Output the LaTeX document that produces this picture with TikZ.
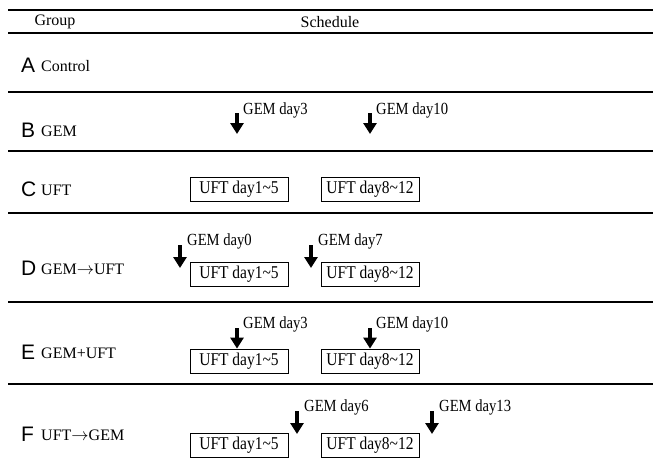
\documentclass[tikz,border=0pt]{standalone}
\usepackage{fontspec}
\setmainfont{Liberation Serif}
\newfontfamily\letfont{Liberation Sans}
\newfontfamily\condfont[FakeStretch=0.86]{Liberation Serif}
\usetikzlibrary{arrows.meta}
\begin{document}
\begin{tikzpicture}[x=1pt,y=-1pt,
  rule/.style={line width=1.1pt},
  hdr/.style={inner sep=0pt, font=\fontsize{16}{18}\selectfont},
  letter/.style={inner sep=0pt, anchor=west, font=\letfont\fontsize{21}{23}\selectfont},
  grp/.style={inner sep=0pt, anchor=west, font=\fontsize{16}{18}\selectfont},
  ufbox/.style={draw, line width=0.8pt, minimum width=98pt, minimum height=24pt, inner sep=0pt, font=\condfont\fontsize{18}{20}\selectfont},
  gemarrow/.style={line width=4pt, -{Triangle[width=13pt,length=11pt]}},
  gemlabel/.style={inner sep=0pt, anchor=west, font=\condfont\fontsize{17}{19}\selectfont}]
\useasboundingbox (0,0) rectangle (653,474);
\fill[white] (0,0) rectangle (653,474);

% rules
\coordinate (l0a) at (8,10);  \coordinate (l0b) at (653,10);
\coordinate (l1a) at (8,33);  \coordinate (l1b) at (653,33);
\coordinate (l2a) at (8,92);  \coordinate (l2b) at (653,92);
\coordinate (l3a) at (8,151); \coordinate (l3b) at (653,151);
\coordinate (l4a) at (8,213); \coordinate (l4b) at (653,213);
\coordinate (l5a) at (8,302); \coordinate (l5b) at (653,302);
\coordinate (l6a) at (8,384); \coordinate (l6b) at (653,384);
\foreach \i in {0,...,6} \draw[rule] (l\i a) -- (l\i b);

% header
\node[hdr] (hgroup) at (55,22) {Group};
\node[hdr] (hsched) at (330,22) {Schedule};

% row labels
\node[letter] (la) at (21,65) {A};  \node[grp] (ga) at (41,66) {Control};
\node[letter] (lb) at (21,130) {B}; \node[grp] (gb) at (41,131) {GEM};
\node[letter] (lc) at (21,189) {C}; \node[grp] (gc) at (41,190) {UFT};
\node[letter] (ld) at (21,268) {D}; \node[grp] (gd) at (41,269) {GEM$\rightarrow$UFT};
\node[letter] (le) at (21,352) {E}; \node[grp] (ge) at (41,353) {GEM+UFT};
\node[letter] (lf) at (21,434) {F}; \node[grp] (gf) at (41,435) {UFT$\rightarrow$GEM};

% boxes
\node[ufbox] (c1) at (239,189) {UFT day1\textasciitilde5};
\node[ufbox] (c2) at (370,189) {UFT day8\textasciitilde12};
\node[ufbox] (d1) at (239,274) {UFT day1\textasciitilde5};
\node[ufbox] (d2) at (370,274) {UFT day8\textasciitilde12};
\node[ufbox] (e1) at (239,361) {UFT day1\textasciitilde5};
\node[ufbox] (e2) at (370,361) {UFT day8\textasciitilde12};
\node[ufbox] (f1) at (239,445) {UFT day1\textasciitilde5};
\node[ufbox] (f2) at (370,445) {UFT day8\textasciitilde12};

% B arrows
\coordinate (b1t) at (237,113); \coordinate (b1b) at (237,134);
\coordinate (b2t) at (370,113); \coordinate (b2b) at (370,134);
\draw[gemarrow] (b1t) -- (b1b);
\draw[gemarrow] (b2t) -- (b2b);
\node[gemlabel] (b1l) at (243,110) {GEM day3};
\node[gemlabel] (b2l) at (376,110) {GEM day10};

% D arrows
\coordinate (d1t) at (180,245); \coordinate (d1b) at (180,268);
\coordinate (d2t) at (311,245); \coordinate (d2b) at (311,268);
\draw[gemarrow] (d1t) -- (d1b);
\draw[gemarrow] (d2t) -- (d2b);
\node[gemlabel] (d1l) at (187,241) {GEM day0};
\node[gemlabel] (d2l) at (318,241) {GEM day7};

% E arrows
\coordinate (e1t) at (237,328);
\coordinate (e2t) at (370,328);
\draw[gemarrow] (e1t) -- (e1.north -| e1t);
\draw[gemarrow] (e2t) -- (e2.north -| e2t);
\node[gemlabel] (e1l) at (243,324) {GEM day3};
\node[gemlabel] (e2l) at (376,324) {GEM day10};

% F arrows
\coordinate (f1t) at (297,411); \coordinate (f1b) at (297,434);
\coordinate (f2t) at (432,411); \coordinate (f2b) at (432,434);
\draw[gemarrow] (f1t) -- (f1b);
\draw[gemarrow] (f2t) -- (f2b);
\node[gemlabel] (f1l) at (304,407) {GEM day6};
\node[gemlabel] (f2l) at (439,407) {GEM day13};
\end{tikzpicture}
\end{document}
